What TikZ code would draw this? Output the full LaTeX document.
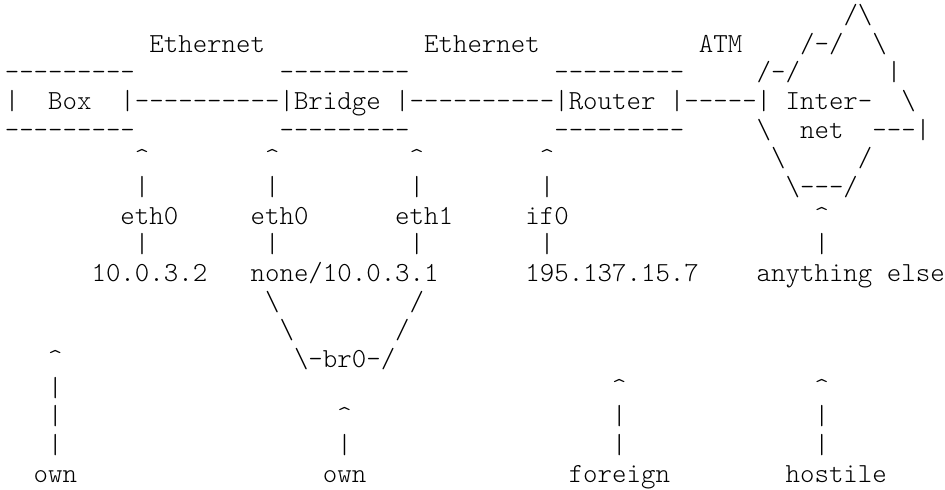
\documentclass[tikz,border=0pt]{standalone}
\usepackage{fontspec}
\newfontfamily\asciifam{lmmonolt10-regular}[Extension=.otf]
\newlength\asciiw
\newcommand\dashrun[1]{\foreach \k in {1,...,#1}{-\kern0pt}}
\newcommand\bs{\textbackslash}
\newcommand\up{\textasciicircum}
\newcommand\tx[3]{\node[ascii] (#1) at (#2) {#3};}
\begin{document}
\settowidth\asciiw{\asciifam\fontsize{28pt}{28pt}\selectfont 0}%
\pgfmathsetmacro\asciifs{28*14.46/\asciiw}%
\begin{tikzpicture}[x=14.46pt,y=-28.67pt]
\tikzset{ascii/.style={anchor=base west,inner sep=0pt,outer sep=0pt,text=black,
  font=\asciifam\fontsize{\asciifs pt}{28.67pt}\selectfont}}
\fill[white] (-0.332,-0.8138) rectangle (65.02,16.243);
\useasboundingbox (-0.332,-0.8138) rectangle (65.02,16.243);
% row 0
\tx{peak}{58,0}{/\bs}
% row 1
\tx{ethA}{10,1}{Ethernet}
\tx{ethB}{29,1}{Ethernet}
\tx{atm}{48,1}{ATM}
\tx{cA}{55,1}{/-/}
\tx{cB}{60,1}{\bs}
% row 2
\tx{boxT}{0,2}{\dashrun{9}}
\tx{brT}{19,2}{\dashrun{9}}
\tx{rtT}{38,2}{\dashrun{9}}
\tx{cC}{52,2}{/-/}
\tx{cD}{61,2}{|}
% row 3
\tx{boxL}{0,3}{|}
\tx{box}{3,3}{Box}
\tx{linkA}{8,3}{|\dashrun{10}|}
\tx{bridge}{20,3}{Bridge}
\tx{linkB}{27,3}{|\dashrun{10}|}
\tx{router}{39,3}{Router}
\tx{linkC}{46,3}{|\dashrun{5}|}
\tx{inter}{54,3}{Inter-}
\tx{cE}{62,3}{\bs}
% row 4
\tx{boxB}{0,4}{\dashrun{9}}
\tx{brB}{19,4}{\dashrun{9}}
\tx{rtB}{38,4}{\dashrun{9}}
\tx{cF}{52,4}{\bs}
\tx{net}{55,4}{net}
\tx{cG}{60,4}{\dashrun{3}|}
% row 5
\tx{upA}{9,5}{\up}
\tx{upB}{18,5}{\up}
\tx{upC}{28,5}{\up}
\tx{upD}{37,5}{\up}
\tx{cH}{53,5}{\bs}
\tx{cI}{59,5}{/}
% row 6
\tx{vA1}{9,6}{|}
\tx{vB1}{18,6}{|}
\tx{vC1}{28,6}{|}
\tx{vD1}{37,6}{|}
\tx{cJ}{54,6}{\bs\dashrun{3}/}
% row 7
\tx{ifA}{8,7}{eth0}
\tx{ifB}{17,7}{eth0}
\tx{ifC}{27,7}{eth1}
\tx{ifD}{36,7}{if0}
\tx{upE}{56,7}{\up}
% row 8
\tx{vA2}{9,8}{|}
\tx{vB2}{18,8}{|}
\tx{vC2}{28,8}{|}
\tx{vD2}{37,8}{|}
\tx{vE2}{56,8}{|}
% row 9
\tx{ipA}{6,9}{10.0.3.2}
\tx{ipB}{17,9}{none/10.0.3.1}
\tx{ipC}{36,9}{195.137.15.7}
\tx{ipD}{52,9}{anything}
\tx{ipE}{61,9}{else}
% row 10-12
\tx{bgA}{18,10}{\bs}
\tx{bgB}{28,10}{/}
\tx{bgC}{19,11}{\bs}
\tx{bgD}{27,11}{/}
\tx{upF}{3,12}{\up}
\tx{br}{20,12}{\bs-br0-/}
% row 13
\tx{vF1}{3,13}{|}
\tx{upG}{42,13}{\up}
\tx{upH}{56,13}{\up}
% row 14
\tx{vF2}{3,14}{|}
\tx{upI}{23,14}{\up}
\tx{vG1}{42,14}{|}
\tx{vH1}{56,14}{|}
% row 15
\tx{vF3}{3,15}{|}
\tx{vI1}{23,15}{|}
\tx{vG2}{42,15}{|}
\tx{vH2}{56,15}{|}
% row 16
\tx{ownA}{2,16}{own}
\tx{ownB}{22,16}{own}
\tx{foreign}{39,16}{foreign}
\tx{hostile}{54,16}{hostile}
\end{tikzpicture}
\end{document}
